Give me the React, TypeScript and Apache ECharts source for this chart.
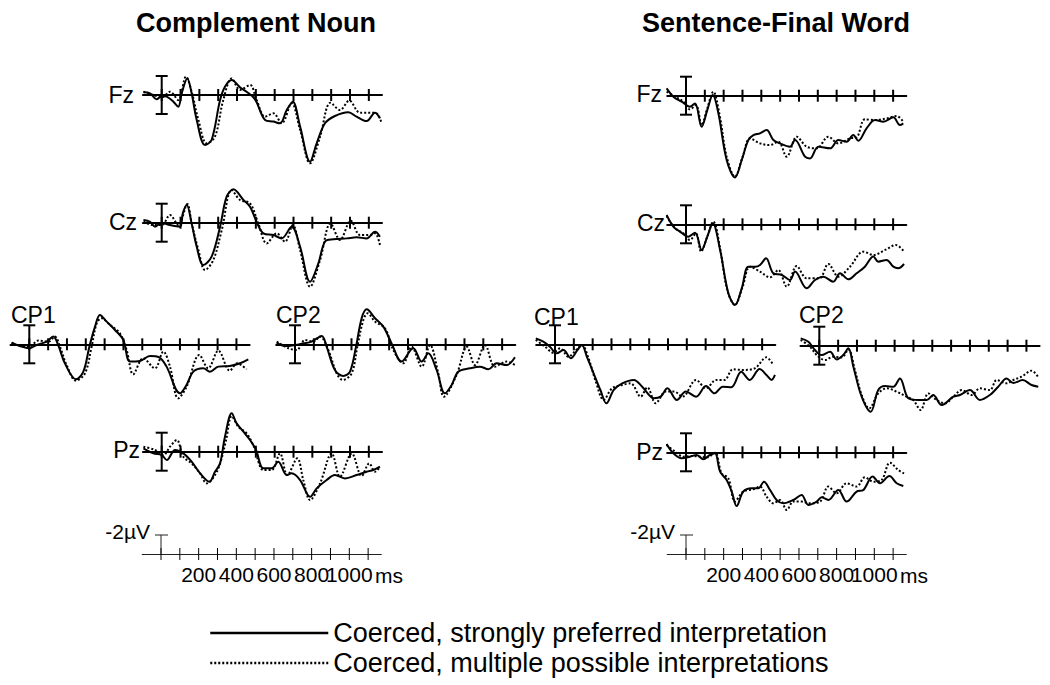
import React, { useEffect, useRef } from "react";
import * as echarts from "echarts";

// ---------- data (time in ms, amplitude in µV; negative plotted up) ----------
const tickTimes = [0, 100, 200, 300, 400, 500, 600, 700, 800, 900, 1000, 1100];
const scaleTickLabels = [200, 400, 600, 800, 1000];
const errorBar = [[0, -2, 2]];
const scaleBar = [[0, 0, -2]];

const cnFzSolid = [[-97,-0.28],[-62,-0.18],[-27,0.46],[0,0.1],[27,0.18],[62,0.7],[88,1.23],[106,-0.18],[136,-1.75],[159,-0.18],[186,2.63],[230,5.26],[265,4.74],[310,0.53],[336,-0.88],[372,-1.58],[416,-0.8],[451,-0.35],[496,0.46],[549,2.63],[593,2.8],[628,2.98],[664,1.58],[696,0.7],[735,3.33],[788,7.02],[823,5.09],[867,2.98],[920,2.21],[991,1.82],[1035,2.28],[1088,2.74],[1133,1.86],[1159,2.46]];
const cnFzDotted = [[-97,-0.35],[-44,0],[0,0.25],[44,-0.35],[88,0.53],[129,-1.93],[159,-0.35],[195,2.63],[239,5.09],[283,4.39],[327,0.53],[372,-1.75],[416,-0.53],[469,-1.05],[504,0.53],[549,2.28],[593,1.93],[637,2.98],[690,0.88],[735,3.68],[788,7.19],[841,4.39],[897,0.81],[947,1.58],[996,0.6],[1053,1.86],[1106,1.86],[1142,1.93],[1168,2.98]];
const cnCzSolid = [[-97,-0.28],[-62,-0.1],[-35,0.42],[0,0],[44,0.25],[97,0.42],[112,-0.98],[133,-1.86],[159,0.07],[186,2.53],[221,4.46],[265,3.58],[310,0.42],[345,-2.74],[381,-3.51],[434,-2.39],[469,-1.68],[504,-0.1],[540,1.12],[593,1.3],[637,1.65],[690,0.42],[735,2.53],[788,6.21],[832,4.28],[867,2.0],[912,1.75],[982,1.65],[1035,1.54],[1088,1.65],[1133,0.95],[1159,1.47]];
const cnCzDotted = [[-97,-0.1],[-44,0.25],[0,0.25],[44,-0.81],[88,0.25],[136,-1.96],[159,0.07],[195,2.88],[230,4.98],[274,3.93],[319,0.77],[372,-3.44],[416,-2.39],[469,-2.04],[513,0.07],[558,2.18],[611,1.12],[655,2.0],[696,0.25],[735,2.88],[788,6.74],[841,3.93],[897,0.07],[947,1.82],[1004,-0.21],[1053,1.3],[1106,1.3],[1133,1.12],[1159,2.35]];
const cnCP1Solid = [[-94,-0.18],[-50,0.18],[0,0.42],[39,0.07],[92,-0.28],[127,-0.81],[154,0.1],[189,2.0],[248,3.68],[287,2.88],[319,0.25],[349,-1.86],[375,-3.09],[411,-2.39],[455,-1.51],[499,-0.46],[535,1.82],[588,1.75],[641,1.23],[690,1.37],[729,2.35],[800,5.16],[835,4.28],[871,2.88],[924,2.53],[959,2.88],[1004,2.35],[1065,2.28],[1119,2.0],[1163,1.58]];
const cnCP1Dotted = [[-94,-0.18],[-32,0.25],[0,0.25],[48,-0.39],[101,-0.28],[136,-0.81],[163,0.25],[198,2.18],[248,3.82],[296,3.05],[331,0.25],[358,-2.21],[384,-2.74],[428,-2.04],[481,-1.16],[517,0.6],[552,3.16],[605,1.47],[667,2.53],[712,0.77],[747,2.35],[791,5.68],[835,4.49],[903,1.12],[950,2.53],[1004,0.67],[1065,2.77],[1104,2.0],[1154,2.63]];
const cnCP2Solid = [[-97,-0.18],[-53,0.18],[0,0.07],[44,-0.1],[88,-0.28],[142,-0.88],[168,0.25],[212,2.7],[257,3.33],[292,2.88],[324,0.25],[354,-2.74],[381,-3.68],[425,-2.74],[469,-1.86],[513,-0.1],[566,1.82],[628,0.42],[673,1.82],[708,0.95],[752,2.7],[796,5.16],[832,4.28],[867,2.88],[929,2.53],[982,2.35],[1027,2.63],[1071,2.0],[1124,2.18],[1168,1.37]];
const cnCP2Dotted = [[-97,-0.28],[-35,0.42],[9,0.6],[53,-0.46],[97,-0.28],[133,-0.81],[177,0.6],[221,3.05],[253,3.75],[301,3.05],[331,0.25],[363,-2.56],[386,-3.26],[425,-2.39],[478,-1.68],[522,0.6],[575,2.0],[619,0.25],[673,2.35],[717,0.07],[761,3.05],[791,5.51],[858,3.23],[912,0.25],[956,2.18],[1009,0.07],[1062,2.35],[1124,1.82],[1168,2.18]];
const cnPzSolid = [[-97,-0.35],[-44,0.18],[0,0.35],[27,0.88],[71,-0.18],[115,0.18],[159,1.05],[204,2.28],[253,3.16],[283,2.11],[310,1.23],[336,-1.58],[372,-4.04],[398,-2.98],[434,-2.11],[469,-1.23],[501,-0.18],[540,1.75],[584,1.75],[619,1.05],[664,2.46],[690,2.28],[735,2.98],[788,4.74],[823,3.86],[876,2.98],[920,2.46],[973,2.81],[1035,2.46],[1088,2.11],[1124,1.93],[1159,1.58]];
const cnPzDotted = [[-97,-0.53],[-35,-0.18],[9,0.35],[44,-0.53],[80,-1.23],[115,0.53],[159,1.23],[204,2.28],[239,3.33],[283,2.46],[313,1.05],[342,-1.23],[372,-3.75],[407,-2.63],[451,-1.93],[490,-0.53],[540,1.93],[584,1.93],[628,0.18],[667,2.46],[720,0.7],[752,2.98],[788,5.09],[841,3.33],[903,0.18],[947,2.63],[1009,0.18],[1062,2.56],[1102,1.23],[1133,2.11],[1159,1.58]];

const sfFzSolid = [[-103,-0.77],[-67,0.1],[-23,0.63],[21,1.16],[48,0.81],[83,3.26],[113,1.51],[142,-0.07],[172,1.86],[216,6.77],[260,8.6],[296,6.77],[331,4.67],[358,4.14],[393,3.96],[428,3.61],[464,4.67],[499,5.02],[552,5.37],[579,4.67],[632,6.42],[658,6.6],[703,5.37],[765,5.54],[809,4.67],[853,4.84],[888,4.14],[915,4.74],[959,3.44],[1004,2.56],[1048,2.74],[1101,2.28],[1136,3.09],[1154,2.91]];
const sfFzDotted = [[-103,-0.42],[-58,0.1],[-14,0.63],[21,1.44],[53,0.98],[83,3.09],[113,1.33],[145,-0.42],[177,1.86],[216,6.42],[260,8.53],[301,6.42],[340,4.49],[393,5.02],[446,5.19],[490,4.84],[535,6.42],[588,4.32],[641,5.37],[694,5.54],[756,4.32],[809,5.02],[871,4.49],[906,4.39],[950,2.49],[1004,2.56],[1066,2.39],[1119,2.14],[1154,2.74]];
const sfCzSolid = [[-103,-0.98],[-67,0.25],[-32,0.77],[12,1.3],[48,0.88],[83,2.7],[113,1.3],[142,-0.1],[181,2.7],[225,7.26],[260,8.49],[296,6.74],[331,4.46],[367,4.46],[393,4.28],[425,3.58],[464,5.16],[508,5.33],[552,5.86],[579,4.98],[641,6.74],[685,5.86],[729,5.51],[782,6.04],[818,5.16],[862,5.79],[906,5.16],[950,4.46],[995,3.4],[1021,3.93],[1065,3.75],[1101,4.46],[1127,4.63],[1158,4.18]];
const sfCzDotted = [[-103,-0.88],[-58,0.42],[-14,0.95],[21,1.65],[53,0.95],[80,2.88],[113,1.3],[145,-0.28],[181,2.53],[219,6.91],[260,8.49],[301,6.56],[340,4.46],[393,4.98],[446,5.58],[490,4.81],[535,6.56],[588,4.39],[641,5.68],[708,5.68],[756,4.18],[809,5.51],[871,4.46],[942,2.88],[995,3.23],[1057,2.7],[1115,2.18],[1158,2.88]];
const sfCP1Solid = [[-102,-0.63],[-62,-0.28],[-27,0.25],[9,0.95],[45,0.6],[84,1.47],[119,0.6],[143,0.07],[169,1.3],[205,3.05],[241,4.81],[273,6.21],[312,4.81],[357,4.11],[419,3.75],[463,4.46],[526,5.68],[561,5.51],[597,4.63],[647,5.86],[695,4.98],[749,5.51],[802,4.39],[847,5.16],[891,4.46],[936,4.53],[989,2.88],[1034,3.75],[1087,2.6],[1123,3.23],[1150,3.75],[1168,3.23]];
const sfCP1Dotted = [[-102,-0.46],[-53,0.25],[-9,0.88],[27,0.42],[71,1.3],[112,0.6],[143,0.07],[178,1.47],[214,3.75],[259,5.86],[303,4.63],[357,4.28],[401,4.11],[455,5.51],[490,4.53],[535,6.21],[588,4.98],[633,4.98],[677,5.51],[749,3.75],[802,4.63],[856,3.75],[900,3.75],[945,2.63],[998,2.7],[1061,2.53],[1123,1.37],[1159,2.18]];
const sfCP2Solid = [[-99,-0.77],[-58,-0.42],[-23,0.46],[12,0.98],[57,0.63],[92,1.44],[127,0.98],[154,0.28],[181,2.21],[225,5.37],[273,6.95],[313,4.67],[349,4.25],[393,4.32],[428,3.44],[473,5.54],[526,5.72],[570,5.72],[605,5.19],[650,6.25],[712,5.37],[747,5.19],[800,4.67],[853,5.72],[906,5.19],[950,4.32],[995,3.44],[1030,3.93],[1080,3.61],[1127,4.14],[1163,4.32]];
const sfCP2Dotted = [[-99,-0.6],[-50,0.1],[-14,0.98],[30,1.51],[74,1.16],[119,1.23],[154,0.39],[189,2.56],[225,5.19],[265,6.6],[313,5.02],[358,4.49],[411,4.84],[464,5.37],[499,5.72],[538,6.77],[579,5.02],[623,5.72],[667,6.07],[712,5.37],[756,4.67],[809,5.19],[853,4.49],[906,4.67],[942,3.61],[995,3.96],[1030,3.61],[1074,3.26],[1127,2.63],[1163,3.33]];
const sfPzSolid = [[-103,-0.88],[-67,0.1],[-23,0.63],[21,0.46],[57,0.28],[92,0.74],[127,0.28],[154,0.1],[181,2.04],[216,2.91],[243,4.14],[269,5.65],[304,4.14],[349,3.79],[384,3.79],[414,3.09],[446,3.96],[481,5.02],[517,5.37],[570,5.02],[614,4.49],[650,5.54],[694,5.19],[720,4.74],[756,5.02],[809,3.96],[853,5.19],[906,4.14],[942,3.96],[991,2.56],[1030,3.26],[1080,2.49],[1119,3.26],[1154,3.54]];
const sfPzDotted = [[-103,-0.77],[-58,-0.07],[-14,0.46],[30,0.39],[74,0.46],[113,0.53],[154,0.04],[189,2.21],[225,2.74],[260,5.19],[304,4.14],[358,3.89],[393,3.61],[428,4.67],[464,5.37],[499,5.02],[535,6.07],[570,5.19],[614,5.19],[658,5.37],[712,5.19],[756,3.61],[800,4.32],[853,3.26],[906,3.61],[950,2.63],[995,3.09],[1039,2.91],[1083,1.09],[1127,1.86],[1158,2.21]];

const SOLID_NAME = "Coerced, strongly preferred interpretation";
const DOTTED_NAME = "Coerced, multiple possible interpretations";

// ---------- layout ----------
const FONT = "'Liberation Sans', Arial, sans-serif";
const PX_MS = 0.1883;
const PX_UV = 9.5;
const TMIN = -100, TMAX = 1170, VMIN = -5, VMAX = 9;

const panels = [
  { solid: cnFzSolid, dotted: cnFzDotted, x0: 161.7, y0: 95, label: "Fz", lx: 134, ly: 95, la: "right" },
  { solid: cnCzSolid, dotted: cnCzDotted, x0: 161.7, y0: 222.7, label: "Cz", lx: 137, ly: 222, la: "right" },
  { solid: cnCP1Solid, dotted: cnCP1Dotted, x0: 29.3, y0: 344.3, label: "CP1", lx: 11, ly: 315, la: "left" },
  { solid: cnCP2Solid, dotted: cnCP2Dotted, x0: 295, y0: 344.3, label: "CP2", lx: 276, ly: 315, la: "left" },
  { solid: cnPzSolid, dotted: cnPzDotted, x0: 161.7, y0: 451.7, label: "Pz", lx: 140, ly: 450, la: "right" },
  { solid: sfFzSolid, dotted: sfFzDotted, x0: 686, y0: 95.7, label: "Fz", lx: 662, ly: 94, la: "right" },
  { solid: sfCzSolid, dotted: sfCzDotted, x0: 686, y0: 224.3, label: "Cz", lx: 665, ly: 223, la: "right" },
  { solid: sfCP1Solid, dotted: sfCP1Dotted, x0: 555, y0: 344.3, label: "CP1", lx: 534, ly: 317, la: "left" },
  { solid: sfCP2Solid, dotted: sfCP2Dotted, x0: 819.3, y0: 345.7, label: "CP2", lx: 799, ly: 315, la: "left" },
  { solid: sfPzSolid, dotted: sfPzDotted, x0: 686, y0: 452.3, label: "Pz", lx: 663, ly: 452, la: "right" },
];
const scales = [
  { x0: 161, y0: 554 },
  { x0: 686, y0: 554 },
];

function buildOption() {
  const grid: any[] = [];
  const xAxis: any[] = [];
  const yAxis: any[] = [];
  const series: any[] = [];
  const graphic: any[] = [];

  const tickRender = (lw: number) => (params: any, api: any) => {
    const p = api.coord([api.value(0), 0]);
    return {
      type: "line",
      shape: { x1: p[0], y1: p[1] - 6, x2: p[0], y2: p[1] + 6 },
      style: { stroke: "#000", lineWidth: lw },
    };
  };

  panels.forEach((p, i) => {
    grid.push({
      left: p.x0 + TMIN * PX_MS,
      top: p.y0 + VMIN * PX_UV,
      width: (TMAX - TMIN) * PX_MS,
      height: (VMAX - VMIN) * PX_UV,
      containLabel: false,
    });
    xAxis.push({
      gridIndex: i, type: "value", min: TMIN, max: TMAX,
      axisLine: { show: true, onZero: true, lineStyle: { color: "#000", width: 2 } },
      axisTick: { show: false }, axisLabel: { show: false }, splitLine: { show: false },
    });
    yAxis.push({
      gridIndex: i, type: "value", min: VMIN, max: VMAX, inverse: true,
      axisLine: { show: false }, axisTick: { show: false }, axisLabel: { show: false }, splitLine: { show: false },
    });
    series.push({
      type: "custom", xAxisIndex: i, yAxisIndex: i, silent: true,
      data: tickTimes.map((t) => [t, 0]),
      renderItem: tickRender(2),
    });
    series.push({
      type: "custom", xAxisIndex: i, yAxisIndex: i, silent: true,
      data: errorBar,
      renderItem: (params: any, api: any) => {
        const a = api.coord([api.value(0), api.value(1)]);
        const b = api.coord([api.value(0), api.value(2)]);
        const st = { stroke: "#000", lineWidth: 2 };
        return {
          type: "group",
          children: [
            { type: "line", shape: { x1: a[0], y1: a[1], x2: b[0], y2: b[1] }, style: st },
            { type: "line", shape: { x1: a[0] - 6, y1: a[1], x2: a[0] + 6, y2: a[1] }, style: st },
            { type: "line", shape: { x1: b[0] - 6, y1: b[1], x2: b[0] + 6, y2: b[1] }, style: st },
          ],
        };
      },
    });
    series.push({
      name: DOTTED_NAME, type: "line", xAxisIndex: i, yAxisIndex: i, data: p.dotted,
      smooth: 0.35, symbol: "none", silent: true,
      lineStyle: { color: "#000", width: 2, type: [2, 2] }, itemStyle: { color: "#000" },
    });
    series.push({
      name: SOLID_NAME, type: "line", xAxisIndex: i, yAxisIndex: i, data: p.solid,
      smooth: 0.35, symbol: "none", silent: true,
      lineStyle: { color: "#000", width: 2, type: "solid" }, itemStyle: { color: "#000" },
    });
    graphic.push({
      type: "text", x: p.lx, y: p.ly,
      style: { text: p.label, font: `23px ${FONT}`, fill: "#000", align: p.la, verticalAlign: "middle" },
    });
  });

  scales.forEach((s, k) => {
    const i = panels.length + k;
    grid.push({
      left: s.x0 + TMIN * PX_MS,
      top: s.y0 - 3 * PX_UV,
      width: (TMAX - TMIN) * PX_MS,
      height: 3 * PX_UV,
    });
    xAxis.push({
      gridIndex: i, type: "value", min: TMIN, max: TMAX, interval: 100,
      axisLine: { show: true, onZero: true, lineStyle: { color: "#222", width: 1 } },
      axisTick: { show: false },
      axisLabel: {
        show: true, margin: 10, color: "#000", fontSize: 21, fontFamily: FONT,
        formatter: (v: number) => (scaleTickLabels.indexOf(v) >= 0 ? String(v) : ""),
      },
      splitLine: { show: false },
    });
    yAxis.push({
      gridIndex: i, type: "value", min: -3, max: 0, inverse: true,
      axisLine: { show: false }, axisTick: { show: false }, axisLabel: { show: false }, splitLine: { show: false },
    });
    series.push({
      type: "custom", xAxisIndex: i, yAxisIndex: i, silent: true,
      data: tickTimes.map((t) => [t, 0]),
      renderItem: tickRender(1),
    });
    series.push({
      type: "custom", xAxisIndex: i, yAxisIndex: i, silent: true,
      data: scaleBar,
      renderItem: (params: any, api: any) => {
        const a = api.coord([api.value(0), api.value(1)]);
        const b = api.coord([api.value(0), api.value(2)]);
        const st = { stroke: "#222", lineWidth: 1 };
        return {
          type: "group",
          children: [
            { type: "line", shape: { x1: a[0], y1: a[1], x2: b[0], y2: b[1] }, style: st },
            { type: "line", shape: { x1: b[0] - 6, y1: b[1], x2: b[0] + 7, y2: b[1] }, style: st },
          ],
        };
      },
    });
    graphic.push({
      type: "text", x: s.x0 - 11, y: s.y0 - 23,
      style: { text: "-2µV", font: `21px ${FONT}`, fill: "#000", align: "right", verticalAlign: "middle" },
    });
    graphic.push({
      type: "text", x: s.x0 + 214, y: s.y0 + 21,
      style: { text: "ms", font: `21px ${FONT}`, fill: "#000", align: "left", verticalAlign: "middle" },
    });
  });

  graphic.push({
    type: "text", x: 256, y: 23,
    style: { text: "Complement Noun", font: `bold 27px ${FONT}`, fill: "#000", align: "center", verticalAlign: "middle" },
  });
  graphic.push({
    type: "text", x: 776, y: 23,
    style: { text: "Sentence-Final Word", font: `bold 27px ${FONT}`, fill: "#000", align: "center", verticalAlign: "middle" },
  });

  return {
    animation: false,
    backgroundColor: "#fff",
    grid, xAxis, yAxis, series, graphic,
    legend: {
      data: [SOLID_NAME, DOTTED_NAME],
      orient: "vertical",
      left: 204, top: 614,
      itemWidth: 118, itemHeight: 14, itemGap: 2,
      selectedMode: false,
      itemStyle: { opacity: 0 },
      lineStyle: { width: 2.5 },
      textStyle: { fontSize: 27, color: "#000", fontFamily: FONT, lineHeight: 28 },
    },
  };
}

export default function App() {
  const ref = useRef<HTMLDivElement>(null);
  useEffect(() => {
    if (!ref.current) return;
    const chart = echarts.init(ref.current, undefined, { renderer: "svg" });
    chart.setOption(buildOption() as any);
    return () => chart.dispose();
  }, []);
  return (
    <div
      ref={ref}
      style={{ position: "absolute", left: 0, top: 0, width: 1050, height: 685, background: "#fff" }}
    />
  );
}
